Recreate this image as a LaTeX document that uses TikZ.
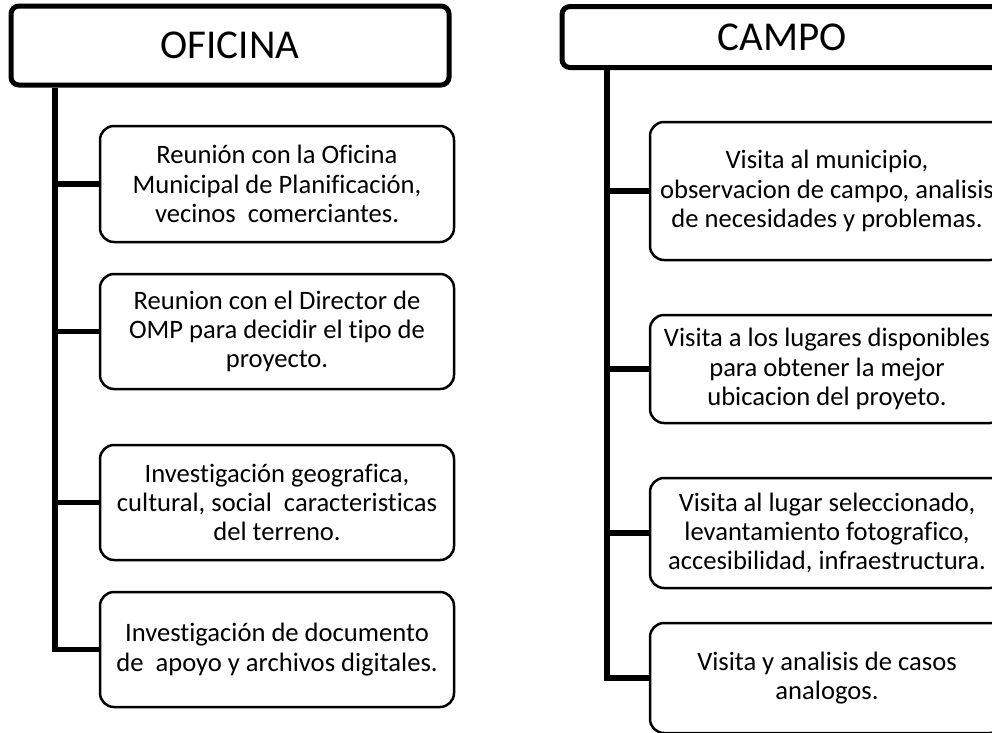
\documentclass[tikz,border=0pt]{standalone}
\usepackage{fontspec}
\setmainfont[Ligatures=NoCommon]{Carlito}
\begin{document}
\begin{tikzpicture}[x=1pt,y=-1pt,
    head/.style={draw,line width=5pt,rounded corners=8pt,inner sep=0pt,font=\fontsize{41}{48}\selectfont},
    item/.style={draw,line width=2.5pt,rounded corners=14pt,inner sep=0pt,align=center,
      minimum width=354pt,font=\fontsize{26.6}{29.2}\selectfont},
    trunk/.style={line width=5.5pt}]
    \useasboundingbox (0,0) rectangle (992,732);
    % left column
    \node[head,minimum width=438pt,minimum height=79pt] (ofi) at (230,45.5) {OFICINA};
    \node[item,minimum height=116pt] (o1) at (277,184) {Reunión con la Oficina\\Municipal de Planificación,\\vecinos\ \ comerciantes.};
    \node[item,minimum height=115pt] (o2) at (277,331.5) {Reunion con el Director de\\OMP para decidir el tipo de\\proyecto.};
    \node[item,minimum height=115pt] (o3) at (277,502.5) {Investigación geografica,\\cultural, social\ \ caracteristicas\\del terreno.};
    \node[item,minimum height=115pt] (o4) at (277,649.5) {Investigación de documento\\de\ \ apoyo y archivos digitales.};
    \coordinate (oT) at (55,649.5);
    \draw[trunk] (oT |- ofi.south) -- (oT) -- (o4.west);
    \foreach \b in {o1,o2,o3} \draw[trunk] (oT |- \b.west) -- (\b.west);
    % right column
    \node[head,minimum width=440pt,minimum height=61pt] (cam) at (782,37) {CAMPO};
    \node[item,minimum height=138pt] (c1) at (827,191) {Visita al municipio,\\observacion de campo, analisis\\de necesidades y problemas.};
    \node[item,minimum height=108pt] (c2) at (827,369) {Visita a los lugares disponibles\\para obtener la mejor\\ubicacion del proyeto.};
    \node[item,minimum height=110pt] (c3) at (827,533) {Visita al lugar seleccionado,\\levantamiento fotografico,\\accesibilidad, infraestructura.};
    \node[item,minimum height=110pt] (c4) at (827,678) {Visita y analisis de casos\\analogos.};
    \coordinate (cT) at (607,678);
    \draw[trunk] (cT |- cam.south) -- (cT) -- (c4.west);
    \foreach \b in {c1,c2,c3} \draw[trunk] (cT |- \b.west) -- (\b.west);
\end{tikzpicture}
\end{document}
